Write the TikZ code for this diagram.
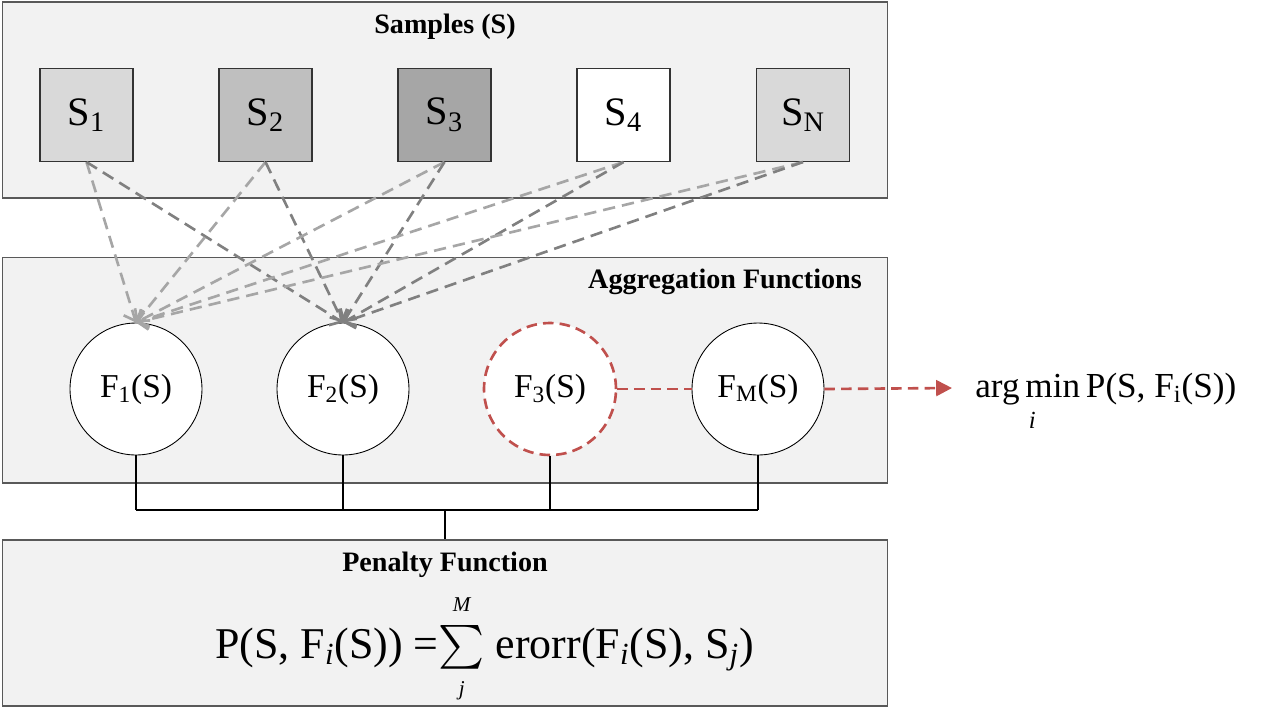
\documentclass[tikz,border=0pt]{standalone}
\usepackage{amsmath}
\usepackage{fontspec}
\setmainfont{Liberation Serif}
\usepackage{xcolor}
\usepackage{tikz}
\usetikzlibrary{arrows.meta, positioning}
\definecolor{panelFill}{RGB}{242,242,242}
\definecolor{panelEdge}{RGB}{89,89,89}
\definecolor{sampleLight}{RGB}{217,217,217}
\definecolor{sampleMid}{RGB}{191,191,191}
\definecolor{sampleDark}{RGB}{166,166,166}
\definecolor{linkLight}{RGB}{166,166,166}
\definecolor{linkDark}{RGB}{128,128,128}
\definecolor{pickRed}{RGB}{192,80,77}
\newcommand{\limitfont}{\fontsize{12}{12}\selectfont\itshape}

\begin{document}
\begin{tikzpicture}[x=0.02cm, y=-0.02cm,
    panel/.style={draw=panelEdge, fill=panelFill, line width=0.6pt, inner sep=0pt},
    paneltitle/.style={font=\fontsize{16}{18}\selectfont\bfseries},
    samplebox/.style={draw=black!80, line width=0.6pt, minimum size=1.86cm, inner sep=0pt, font=\fontsize{23}{26}\selectfont},
    funcnode/.style={circle, draw=black, fill=white, line width=0.5pt, minimum size=2.64cm, inner sep=0pt, font=\fontsize{19}{22}\selectfont},
    lightlink/.style={draw=linkLight, line width=1.5pt, dash pattern=on 7pt off 4pt, -{Straight Barb[length=5pt,width=11pt]}},
    darklink/.style={lightlink, draw=linkDark},
    redlink/.style={draw=pickRed, line width=1.5pt, dash pattern=on 6pt off 3.5pt},
    bus/.style={draw=black, line width=1.2pt}]
    \useasboundingbox (0,0) rectangle (1276,708);
    % Panels
    \node[panel, minimum width=17.72cm, minimum height=3.92cm] (samples) at (445,100) {};
    \node[panel, minimum width=17.72cm, minimum height=4.52cm] (aggregation) at (445,370) {};
    \node[panel, minimum width=17.72cm, minimum height=3.32cm] (penalty) at (445,623) {};
    \node[paneltitle] (samplesTitle) at (445,27) {Samples (S)};
    \node[paneltitle, anchor=east] (aggTitle) at (868,282) {Aggregation Functions};
    \node[paneltitle] (penaltyTitle) at (445,565) {Penalty Function};
    % Samples
    \foreach \x/\name/\tone/\lbl in {86.5/s1/sampleLight/1, 265.5/s2/sampleMid/2, 444.5/s3/sampleDark/3, 623.5/s4/white/4, 803/sn/sampleLight/N}
      \node[samplebox, fill=\tone] (\name) at (\x,115) {S\textsubscript{\lbl}};
    % Aggregation functions
    \node[funcnode] (f1) at (136,389) {F\textsubscript{1}(S)};
    \node[funcnode] (f2) at (343,389) {F\textsubscript{2}(S)};
    \node[funcnode, draw=pickRed, line width=1.5pt, dash pattern=on 6pt off 3.5pt] (f3) at (550,389) {F\textsubscript{3}(S)};
    \node[funcnode] (fm) at (758,389) {F\textsubscript{M}(S)};
    % Sample links
    \foreach \s in {s1,s2,s3,s4,sn} {
      \draw[lightlink] (\s.south) -- (f1.north);
      \draw[darklink] (\s.south) -- (f2.north);
    }
    % Selection
    \coordinate (pick) at (952,388);
    \draw[redlink] (f3.east) -- (fm.west);
    \draw[redlink, -{Triangle[length=9pt,width=9pt]}] (fm.east) -- (pick);
    \node[anchor=base west, inner sep=0pt, font=\fontsize{20}{22}\selectfont] (result) at (975,397)
      {arg\,\begin{tabular}[t]{@{}l@{}}min\\[-4pt]\hspace{2pt}{\itshape\fontsize{14}{14}\selectfont i}\end{tabular}\,P(S, F\textsubscript{i}(S))};
    % Bus to penalty
    \coordinate (join) at (445,510);
    \foreach \f in {f1,f2,f3,fm}
      \draw[bus] (\f.south) -- (\f.south |- join);
    \draw[bus] (f1.south |- join) -- (fm.south |- join);
    \draw[bus] (join) -- (penalty.north);
    % Penalty formula
    \node[anchor=base west, inner sep=0pt, font=\fontsize{25}{28}\selectfont] (formula) at (215,658)
      {P(S, F\textsubscript{\itshape i}(S)) =$\sum\limits_{\mbox{\limitfont j}}^{\raisebox{3pt}{\limitfont M}}$ erorr(F\textsubscript{\itshape i}(S), S\textsubscript{\itshape j})};
\end{tikzpicture}
\end{document}
